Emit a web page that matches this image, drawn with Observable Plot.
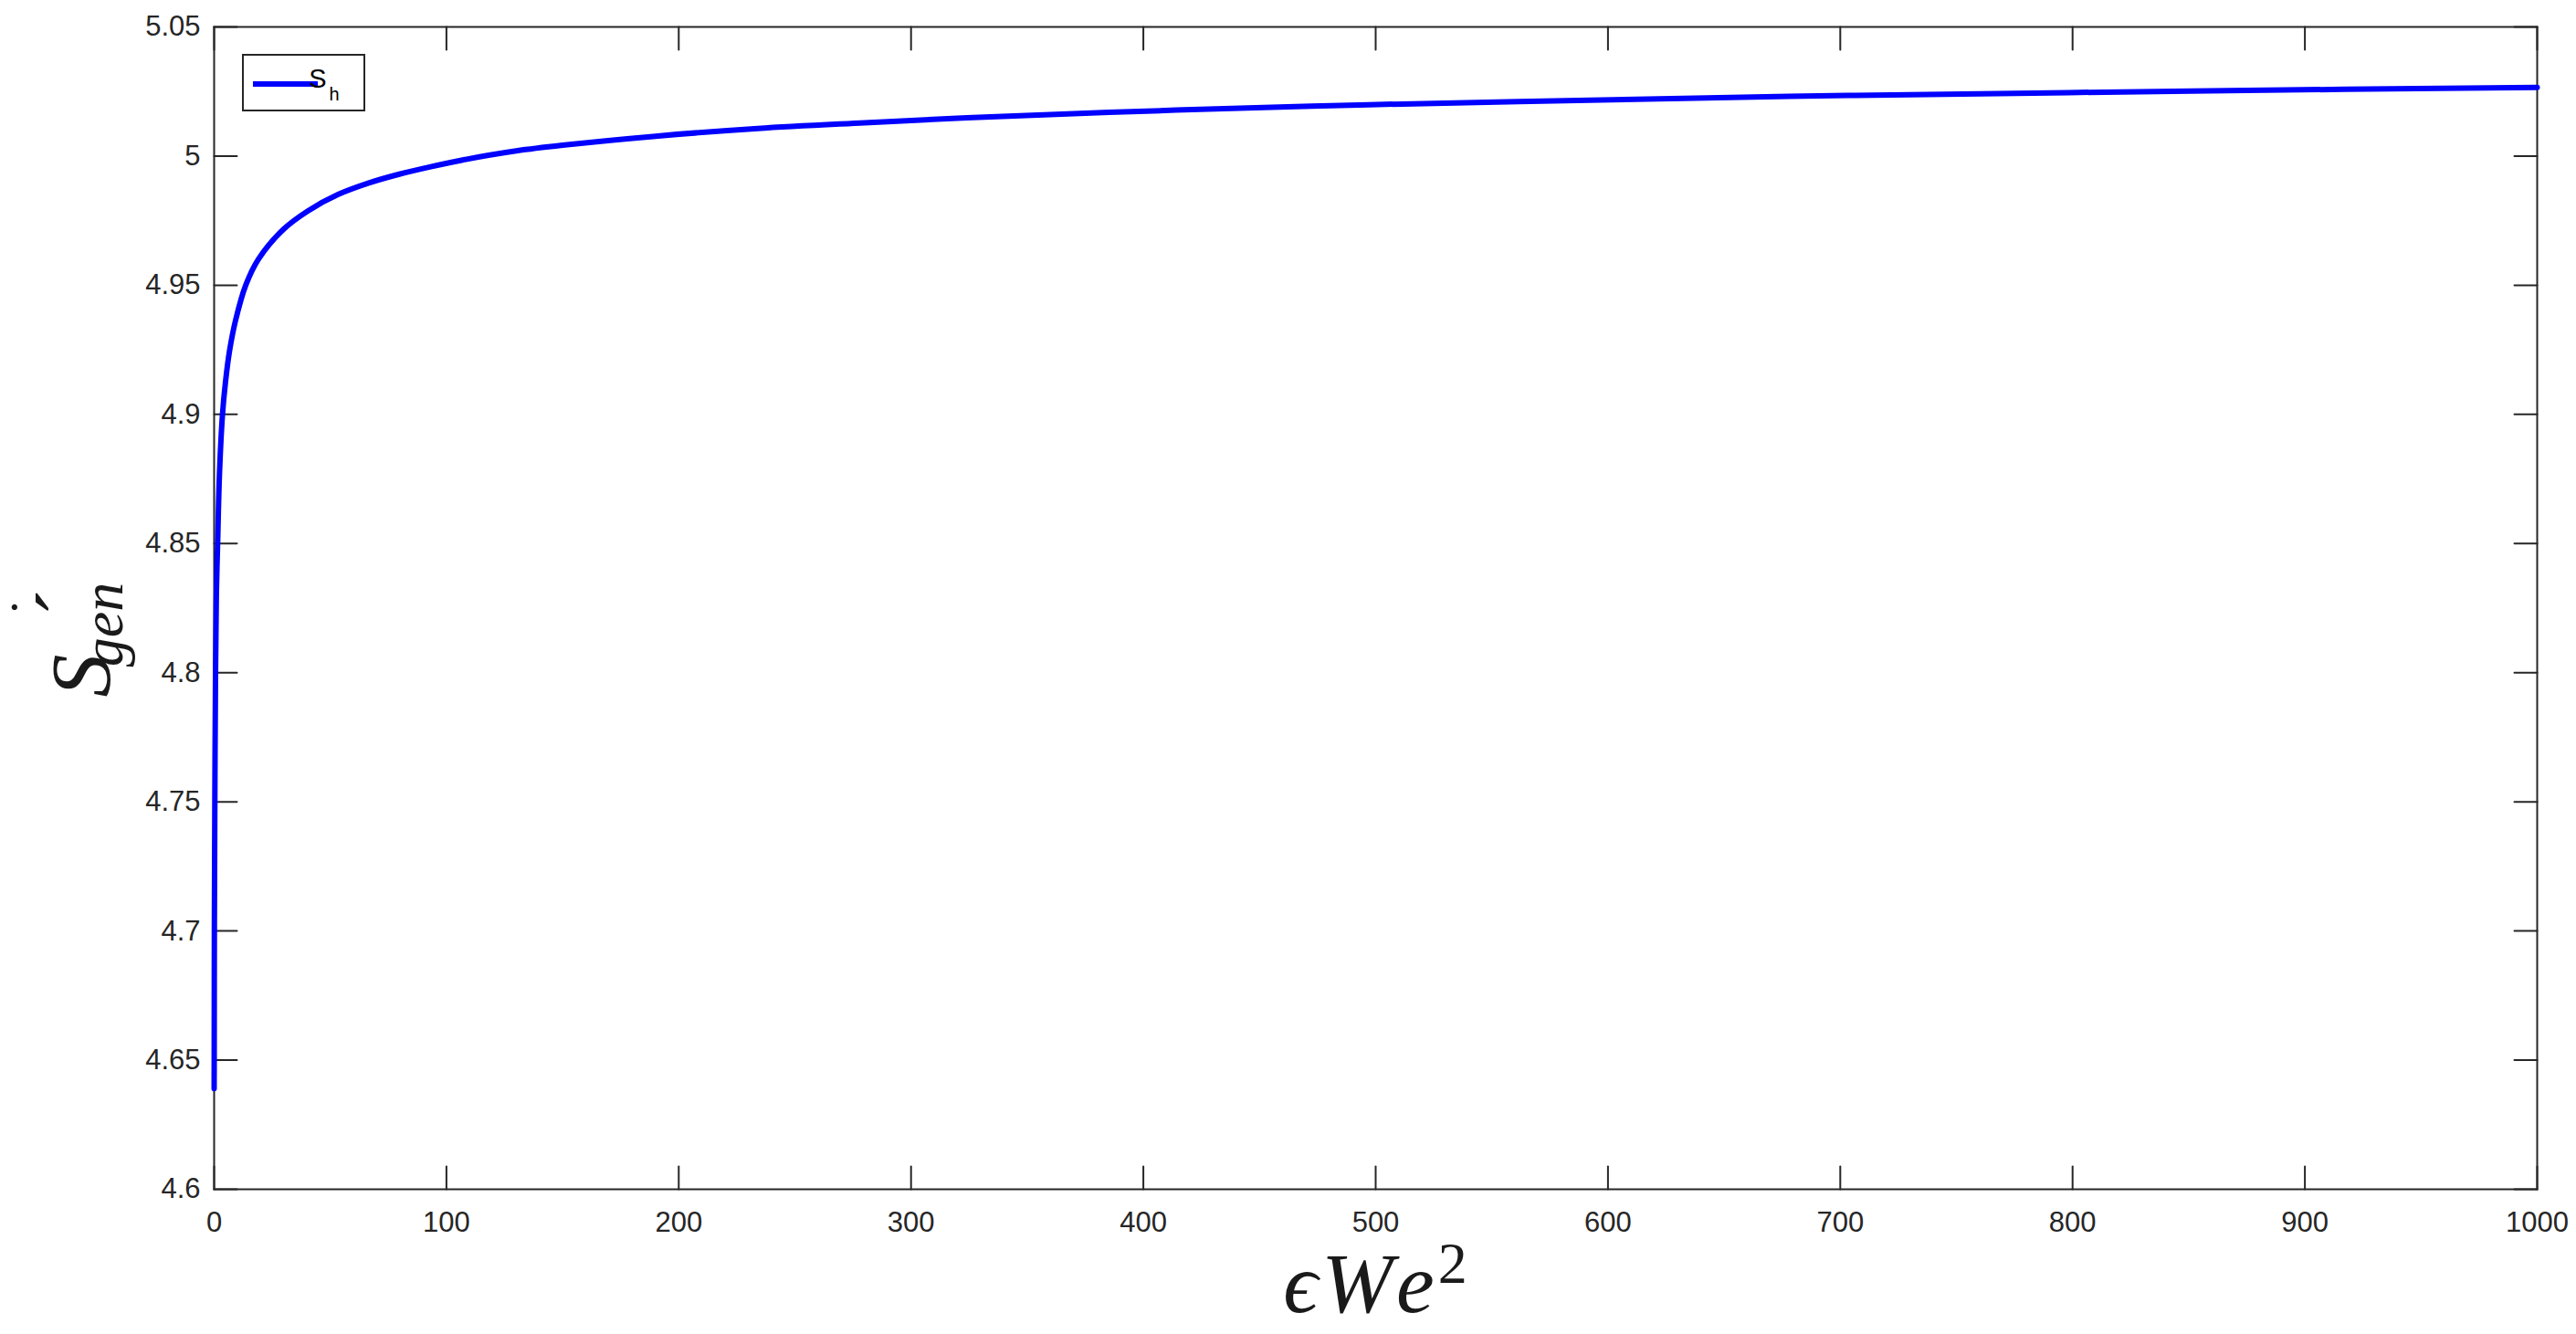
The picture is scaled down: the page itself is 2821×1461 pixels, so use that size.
<!DOCTYPE html>
<html>
<head>
<meta charset="utf-8">
<script src="https://cdn.jsdelivr.net/npm/d3@7"></script>
<script src="https://cdn.jsdelivr.net/npm/@observablehq/plot@0.6"></script>
<style>
  html, body { margin: 0; padding: 0; background: #ffffff; }
  #chart svg { display: block; }
</style>
</head>
<body>
<div id="chart"></div>
<script>
// ---- data ----
const xValues = [0, 0.03, 0.1, 0.3, 0.6, 0.95, 1.5, 2.3, 3.6, 4.9, 6.6, 9.2, 13.6, 19, 29.9, 40.4, 53.5, 66.6, 79.7, 92.8, 107, 130, 150, 190, 234, 280, 324, 370, 414, 497, 587, 678, 768, 851, 1000];
const yValues = [4.639, 4.65, 4.70, 4.75, 4.80, 4.83, 4.85, 4.877, 4.90, 4.9126, 4.9244, 4.9363, 4.95, 4.960, 4.9717, 4.9788, 4.9852, 4.9896, 4.9930, 4.9958, 4.9985, 5.0020, 5.0042, 5.0077, 5.0107, 5.0129, 5.0148, 5.0164, 5.0178, 5.0199, 5.0215, 5.0231, 5.0242, 5.0252, 5.0266];
const xTicks = [0, 100, 200, 300, 400, 500, 600, 700, 800, 900, 1000];
const yTicks = [4.6, 4.65, 4.7, 4.75, 4.8, 4.85, 4.9, 4.95, 5, 5.05];
const xDomain = [0, 1000];
const yDomain = [4.6, 5.05];
const seriesName = "S";
const seriesSub = "h";

const data = xValues.map((x, i) => ({x, y: yValues[i]}));

const axisColor = "#262626";
const tickShape = {
  draw(context, l) {
    context.moveTo(0, 0);
    context.lineTo(0, -l);
  }
};
const tickOpts = {length: 25, shape: tickShape, anchor: "start", stroke: axisColor, strokeWidth: 2};

const W = 2821, H = 1461;
const mL = 234, mR = 43, mT = 29, mB = 159;

const chart = Plot.plot({
  width: W,
  height: H,
  marginLeft: mL,
  marginRight: mR,
  marginTop: mT,
  marginBottom: mB,
  style: {color: axisColor, fontFamily: "'Liberation Sans', Arial, Helvetica, sans-serif", background: "#ffffff"},
  x: {domain: xDomain},
  y: {domain: yDomain},
  marks: [
    Plot.frame({stroke: axisColor, strokeWidth: 2}),
    Plot.vector(xTicks, {...tickOpts, x: d => d, y: () => yDomain[0], rotate: 0}),
    Plot.vector(xTicks, {...tickOpts, x: d => d, y: () => yDomain[1], rotate: 180}),
    Plot.vector(yTicks, {...tickOpts, x: () => xDomain[0], y: d => d, rotate: 90}),
    Plot.vector(yTicks, {...tickOpts, x: () => xDomain[1], y: d => d, rotate: -90}),
    Plot.axisX({ticks: xTicks, tickSize: 0, tickPadding: 24, fontSize: 31, label: null, tickFormat: d => String(d), fill: axisColor}),
    Plot.axisY({ticks: yTicks, tickSize: 0, tickPadding: 15, fontSize: 31, label: null, tickFormat: d => String(d), fill: axisColor}),
    Plot.line(data, {x: "x", y: "y", stroke: "#0000ff", strokeWidth: 6, curve: "catmull-rom"})
  ]
});

document.getElementById("chart").appendChild(chart);

// ---- axis labels and legend as real SVG text ----
const svg = d3.select(chart);
const serif = "'Liberation Serif', 'DejaVu Serif', 'Times New Roman', serif";

// x label: ϵWe^2
const xl = svg.append("text")
  .attr("x", mL + (W - mL - mR) / 2)
  .attr("y", 1437)
  .attr("text-anchor", "middle")
  .attr("font-family", serif)
  .attr("font-size", 94)
  .attr("fill", "#1a1a1a");
xl.append("tspan").attr("font-style", "italic").text("ϵ");
xl.append("tspan").attr("font-style", "italic").attr("dx", 4).text("W");
xl.append("tspan").attr("font-style", "italic").attr("dx", 12).text("e");
xl.append("tspan").attr("font-size", 64).attr("dx", 4).attr("dy", -32).text("2");

// y label: S-dot prime, subscript gen (rotated)
const yl = svg.append("g")
  .attr("transform", "translate(120,740) rotate(-90)")
  .attr("font-family", serif)
  .attr("fill", "#1a1a1a");
yl.append("text").attr("x", 0).attr("y", 0).attr("font-size", 94).attr("font-style", "italic").text("S");
yl.append("text").attr("x", 56).attr("y", 14).attr("font-size", 64).attr("font-style", "italic").text("gen");
yl.append("text").attr("x", 75).attr("y", -68).attr("font-size", 60).attr("text-anchor", "middle").text("˙");
yl.append("text").attr("x", 80).attr("y", -16).attr("font-size", 94).attr("text-anchor", "middle").text("´");

// legend
const lg = svg.append("g");
lg.append("rect").attr("x", 266).attr("y", 60).attr("width", 133).attr("height", 61)
  .attr("fill", "#ffffff").attr("stroke", axisColor).attr("stroke-width", 2);
lg.append("line").attr("x1", 277).attr("x2", 348).attr("y1", 92).attr("y2", 92)
  .attr("stroke", "#0000ff").attr("stroke-width", 6);
const lt = lg.append("text").attr("x", 355).attr("y", 96)
  .attr("font-family", "'Liberation Sans', Arial, Helvetica, sans-serif")
  .attr("font-size", 29).attr("fill", "#000000");
lt.append("tspan").text(seriesName);
lt.append("tspan").attr("font-size", 20).attr("dx", 3).attr("dy", 14).text(seriesSub);
</script>
</body>
</html>
